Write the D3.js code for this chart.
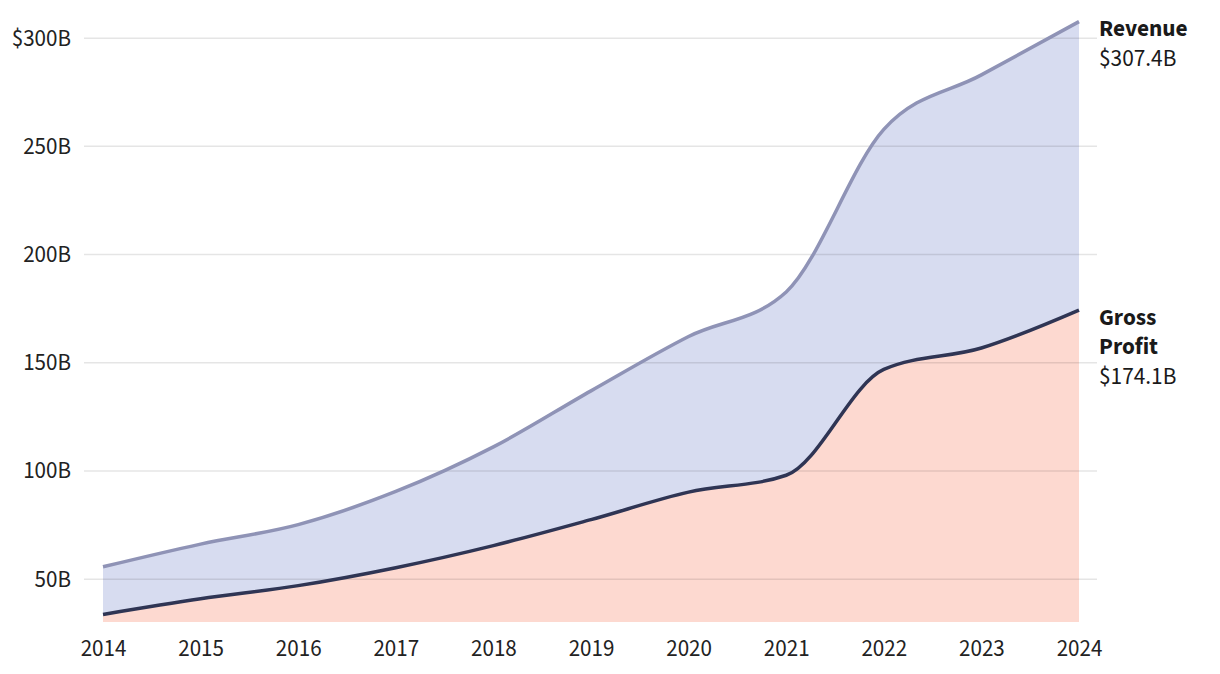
<!DOCTYPE html>
<html>
<head>
<meta charset="utf-8">
<script src="https://cdn.jsdelivr.net/npm/d3@7"></script>
<style>
  body { margin: 0; background: #fff; }
  svg, svg text { font-family: "Source Sans 3", "Source Sans Pro", Lato, sans-serif; }
  svg { display: block; }
</style>
</head>
<body>
<svg id="chart" width="1220" height="674"></svg>
<script>
// data (values in $B)
var years = [2014, 2015, 2016, 2017, 2018, 2019, 2020, 2021, 2022, 2023, 2024];
var revenue = [55.5, 66.0, 75.0, 90.3, 110.9, 136.8, 161.9, 182.5, 257.6, 282.8, 307.4];
var grossProfit = [33.5, 40.7, 46.8, 55.1, 65.3, 77.3, 90.0, 97.8, 146.7, 156.6, 174.1];
var yTicks = [50, 100, 150, 200, 250, 300];

var svg = d3.select("#chart");
var font = '"Source Sans 3", "Source Sans Pro", Lato, sans-serif';

var x = d3.scaleLinear().domain([2014, 2024]).range([103, 1079]);
var y = d3.scaleLinear().domain([30, 310]).range([622, 16]);

var rows = years.map(function (yr, i) {
    return { year: yr, rev: revenue[i], gp: grossProfit[i] };
});

var curve = d3.curveMonotoneX;

// areas
var revArea = d3.area().curve(curve)
    .x(function (d) { return x(d.year); })
    .y0(y(30))
    .y1(function (d) { return y(d.rev); });
var gpArea = d3.area().curve(curve)
    .x(function (d) { return x(d.year); })
    .y0(y(30))
    .y1(function (d) { return y(d.gp); });

svg.append("path").datum(rows).attr("d", revArea).attr("fill", "#d7dcf0");
svg.append("path").datum(rows).attr("d", gpArea).attr("fill", "#fdd9d0");

// gridlines (drawn over areas, light)
var yAxis = d3.axisLeft(y).tickValues(yTicks)
    .tickSize(-(1097 - 84))
    .tickPadding(13)
    .tickFormat(function (d) { return d === 300 ? "$" + d + "B" : d + "B"; });

var gy = svg.append("g").attr("transform", "translate(84,0)").call(yAxis)
    .attr("font-family", font);
gy.select(".domain").remove();
gy.selectAll(".tick line").attr("stroke", "rgba(0,0,0,0.1)").attr("stroke-width", 1.5);
gy.selectAll(".tick text").attr("font-size", 23).attr("fill", "#222");

// lines
var revLine = d3.line().curve(curve)
    .x(function (d) { return x(d.year); })
    .y(function (d) { return y(d.rev); });
var gpLine = d3.line().curve(curve)
    .x(function (d) { return x(d.year); })
    .y(function (d) { return y(d.gp); });

svg.append("path").datum(rows).attr("d", revLine)
    .attr("fill", "none").attr("stroke", "#8f93b6").attr("stroke-width", 3.5);
svg.append("path").datum(rows).attr("d", gpLine)
    .attr("fill", "none").attr("stroke", "#2f3554").attr("stroke-width", 3.5);

// x axis
var xAxis = d3.axisBottom(x).tickValues(years).tickSize(0).tickPadding(12)
    .tickFormat(d3.format("d"));
var gx = svg.append("g").attr("transform", "translate(0,628)").call(xAxis)
    .attr("font-family", font);
gx.select(".domain").remove();
gx.selectAll(".tick text").attr("font-size", 23).attr("fill", "#222");

// end labels
var last = rows[rows.length - 1];
var labels = [
    { lines: ["Revenue"], value: "$" + last.rev + "B", y: y(last.rev) },
    { lines: ["Gross", "Profit"], value: "$" + last.gp + "B", y: y(last.gp) }
];
labels.forEach(function (lb) {
    var t = svg.append("text")
        .attr("x", 1099).attr("y", lb.y + 14.5)
        .attr("font-size", 23.3).attr("fill", "#1a1a1a");
    lb.lines.forEach(function (s, i) {
        t.append("tspan").attr("x", 1099).attr("dy", i ? 29.5 : 0)
            .attr("font-weight", 700).text(s);
    });
    t.append("tspan").attr("x", 1099).attr("dy", 29.5).attr("font-weight", 400).text(lb.value);
});
</script>
</body>
</html>
